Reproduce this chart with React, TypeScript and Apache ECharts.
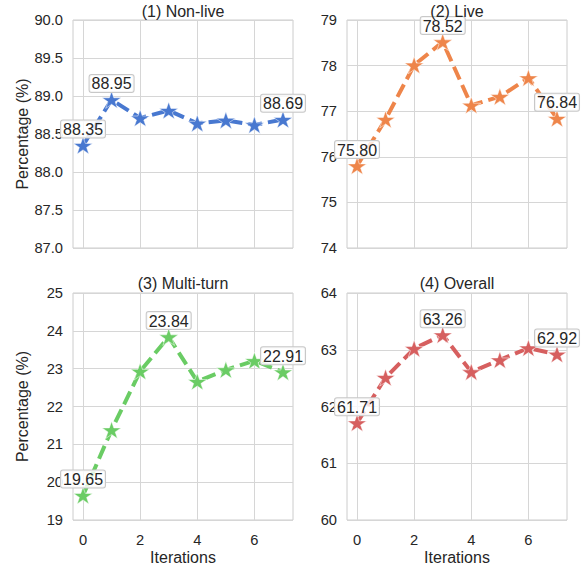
import React, { useEffect, useRef } from "react";
import * as echarts from "echarts";

const ITERATIONS = [0, 1, 2, 3, 4, 5, 6, 7];
const NON_LIVE = [88.35, 88.95, 88.71, 88.81, 88.64, 88.68, 88.62, 88.69];
const LIVE = [75.8, 76.82, 78.01, 78.52, 77.13, 77.32, 77.73, 76.84];
const MULTI_TURN = [19.65, 21.38, 22.93, 23.84, 22.66, 22.97, 23.21, 22.91];
const OVERALL = [61.71, 62.51, 63.02, 63.26, 62.61, 62.82, 63.03, 62.92];
const TITLES = ["(1) Non-live", "(2) Live", "(3) Multi-turn", "(4) Overall"];
const COLORS = ["#4878d0", "#ee854a", "#6acc64", "#d65f5f"];
const Y_RANGES = [
  [87, 90, 0.5],
  [74, 79, 1],
  [19, 25, 1],
  [60, 64, 1],
];
const X_TICKS = [0, 2, 4, 6];

const STAR =
  "path://M100,0 L122.45,69.1 L195.1,69.1 L136.33,111.8 L158.78,180.9 L100,138.2 L41.22,180.9 L63.67,111.8 L4.9,69.1 L77.55,69.1 Z";

const FONT = "'Liberation Sans', Arial, sans-serif";
const TEXT = "#262626";

export default function App() {
  const ref = useRef<HTMLDivElement>(null);
  useEffect(() => {
    if (!ref.current) return;
    const chart = echarts.init(ref.current, undefined, { renderer: "svg" });
    const all = [NON_LIVE, LIVE, MULTI_TURN, OVERALL];
    const grids = [
      { left: 73, top: 20, width: 220, height: 228 },
      { left: 347, top: 20, width: 220, height: 228 },
      { left: 73, top: 293, width: 220, height: 227 },
      { left: 347, top: 293, width: 220, height: 227 },
    ];
    const titleTops = [3, 3, 275, 275];
    const option: any = {
      animation: false,
      backgroundColor: "#ffffff",
      textStyle: { fontFamily: FONT },
      title: TITLES.map((t, i) => ({
        text: t,
        left: grids[i].left + grids[i].width / 2,
        top: titleTops[i],
        padding: 0,
        textAlign: "center",
        textStyle: { fontSize: 16, fontWeight: "normal", color: TEXT, fontFamily: FONT },
      })),
      grid: grids.map((g) => ({
        ...g,
        show: true,
        borderColor: "#cccccc",
        borderWidth: 1,
        backgroundColor: "transparent",
      })),
      xAxis: grids.map((_, i) => ({
        type: "value",
        gridIndex: i,
        min: -0.35,
        max: 7.35,
        name: i >= 2 ? "Iterations" : "",
        nameLocation: "middle",
        nameGap: 29,
        nameTextStyle: { fontSize: 16, color: TEXT, fontFamily: FONT },
        axisLine: { show: false },
        axisTick: { show: false, customValues: X_TICKS },
        axisLabel: {
          show: i >= 2,
          customValues: X_TICKS,
          fontSize: 14.7,
          color: TEXT,
          margin: 12,
          fontFamily: FONT,
        },
        splitLine: { show: true, lineStyle: { color: "#d6d6d6", width: 1 } },
      })),
      yAxis: grids.map((_, i) => ({
        type: "value",
        gridIndex: i,
        min: Y_RANGES[i][0],
        max: Y_RANGES[i][1],
        interval: Y_RANGES[i][2],
        name: i % 2 === 0 ? "Percentage (%)" : "",
        nameLocation: "middle",
        nameGap: 43,
        nameTextStyle: { fontSize: 16, color: TEXT, fontFamily: FONT },
        axisLine: { show: false },
        axisTick: { show: false },
        axisLabel: {
          fontSize: 14.7,
          color: TEXT,
          margin: 10,
          fontFamily: FONT,
          formatter: (v: number) => (i === 0 ? v.toFixed(1) : String(Math.round(v))),
        },
        splitLine: { show: true, lineStyle: { color: "#d6d6d6", width: 1 } },
      })),
      series: all.map((vals, i) => {
        let maxIdx = 0;
        vals.forEach((v, k) => {
          if (v > vals[maxIdx]) maxIdx = k;
        });
        return {
          type: "line",
          xAxisIndex: i,
          yAxisIndex: i,
          symbol: STAR,
          symbolSize: [19, 18],
          symbolKeepAspect: true,
          color: COLORS[i],
          lineStyle: { color: COLORS[i], width: 4, type: [14, 6] },
          itemStyle: { color: COLORS[i], borderColor: "#ffffff", borderWidth: 0.5 },
          z: 2,
          data: vals.map((v, k) => {
            const show = k === 0 || k === maxIdx || k === vals.length - 1;
            return {
              value: [ITERATIONS[k], v],
              label: show
                ? {
                    show: true,
                    position: "top",
                    distance: -1,
                    formatter: () => v.toFixed(2),
                    fontSize: 16,
                    color: TEXT,
                    fontFamily: FONT,
                    backgroundColor: "rgba(255,255,255,0.8)",
                    borderColor: "#c8c8c8",
                    borderWidth: 1,
                    borderRadius: 2,
                    padding: [1, 2, 0, 2],
                  }
                : { show: false },
            };
          }),
        };
      }),
    };
    chart.setOption(option);
    return () => chart.dispose();
  }, []);
  return (
    <div
      ref={ref}
      style={{ position: "fixed", left: 0, top: 0, width: 583, height: 566 }}
    />
  );
}
